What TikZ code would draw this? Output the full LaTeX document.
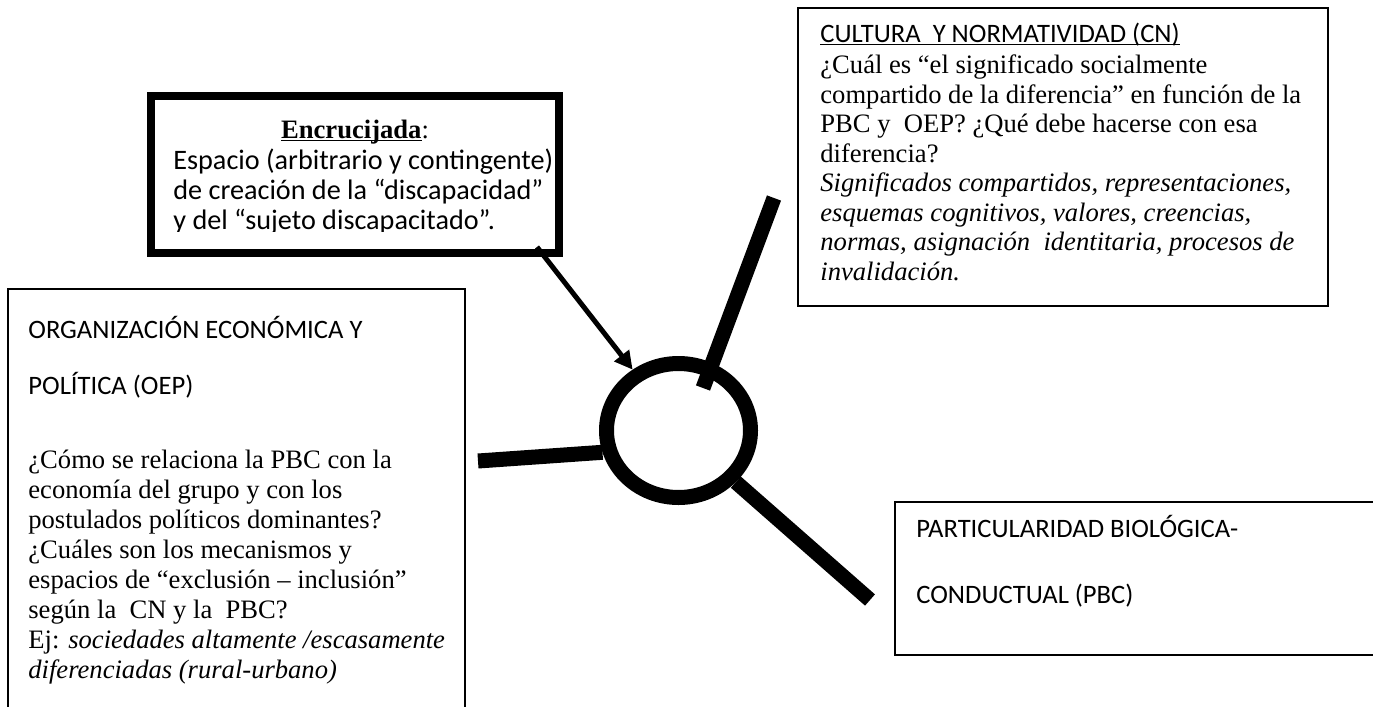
\documentclass[tikz,border=0pt]{standalone}
\usepackage{fontspec}
\setmainfont{Liberation Serif}
\newfontfamily\calibri{Carlito}
\usetikzlibrary{arrows.meta,shapes.geometric}

% underline set close to the baseline
\newcommand\lowline[1]{\setbox0\hbox{#1}\rlap{\rule[-1.6pt]{\wd0}{0.6pt}}\box0}

\tikzset{
  thinbox/.style={draw, line width=0.75pt, anchor=north west, inner sep=0pt, outer sep=0pt},
  thickbox/.style={draw, line width=4pt, anchor=north west, inner sep=0pt, outer sep=0pt},
  txt/.style={anchor=base west, align=left, inner sep=0pt},
  serif/.style={font=\fontsize{13.3}{14.75}\selectfont},
  sans/.style={font=\calibri\fontsize{13.3}{14.75}\selectfont},
  spoke/.style={line width=7.5pt},
  hubring/.style={draw, ellipse, line width=7.5pt, minimum width=72pt, minimum height=67pt, inner sep=0pt},
}

\begin{document}
\begin{tikzpicture}[x=0.5pt, y=-0.5pt]
\useasboundingbox (0,0) rectangle (1373,707);

% cajas (multi-line nodes are placed by the baseline of their last line)
\node[thickbox, minimum width=204pt, minimum height=78.5pt] (enc) at (151,96) {};
\node[thinbox, minimum width=265pt, minimum height=149pt] (cn) at (798,8) {};
\node[thinbox, minimum width=228.5pt, minimum height=230pt] (oep) at (8,289) {};
\node[thinbox, minimum width=252.5pt, minimum height=76.5pt] (pbc) at (895,502) {};

% encrucijada
\node[anchor=base, inner sep=0pt, serif] (enctitle) at (355,138) {\lowline{\textbf{Encrucijada}}:};
\begin{scope}
  \clip (155,100) rectangle (555,231);
  \node[txt, font=\calibri\fontsize{14.1}{15}\selectfont] (enctext) at (173,229)
    {Espacio (arbitrario y contingente)\\
     de creación de la “discapacidad”\\
     y del “sujeto discapacitado”.};
\end{scope}

% cultura y normatividad
\node[txt, sans] (cnhead) at (820,42) {\lowline{CULTURA\ \ Y NORMATIVIDAD (CN)}};
\node[txt, serif] (cntext) at (820,280)
  {¿Cuál es “el significado socialmente\\
   compartido de la diferencia” en función de la\\
   PBC y\ \ OEP? ¿Qué debe hacerse con esa\\
   diferencia?\\
   \textit{Significados compartidos, representaciones,}\\
   \textit{esquemas cognitivos, valores, creencias,}\\
   \textit{normas, asignación\ \ identitaria, procesos de}\\
   \textit{invalidación.}};

% organizacion economica y politica
\node[txt, font=\calibri\fontsize{13.3}{28}\selectfont] (oephead) at (28,394)
  {ORGANIZACIÓN ECONÓMICA Y\\ POLÍTICA (OEP)};
\node[txt, serif, font=\fontsize{13.3}{15}\selectfont] (oeptext) at (28,678)
  {¿Cómo se relaciona la PBC con la\\
   economía del grupo y con los\\
   postulados políticos dominantes?\\
   ¿Cuáles son los mecanismos y\\
   espacios de “exclusión – inclusión”\\
   según la\ \ CN y la\ \ PBC?\\
   Ej: \textit{sociedades altamente /escasamente}\\
   \textit{diferenciadas (rural-urbano)}};

% particularidad biologica
\node[txt, font=\calibri\fontsize{13.3}{33}\selectfont] (pbchead) at (916,603)
  {PARTICULARIDAD BIOLÓGICA-\\ CONDUCTUAL (PBC)};

% nudo central
\node[hubring] (hub) at (678.5,430.5) {};
\coordinate (oepend) at (478,461);
\coordinate (cnend) at (774,198);
\coordinate (cnin) at (703,388);
\coordinate (pbcend) at (870,600);
\coordinate (encfoot) at (537,247);

\draw[spoke] (oepend) -- (hub.196);
\draw[spoke] (cnend) -- (cnin);
\draw[spoke] (hub.318) -- (pbcend);
\draw[line width=2.5pt, -{Triangle[length=9pt, width=9pt]}] (encfoot) -- (hub.127);
\end{tikzpicture}
\end{document}
